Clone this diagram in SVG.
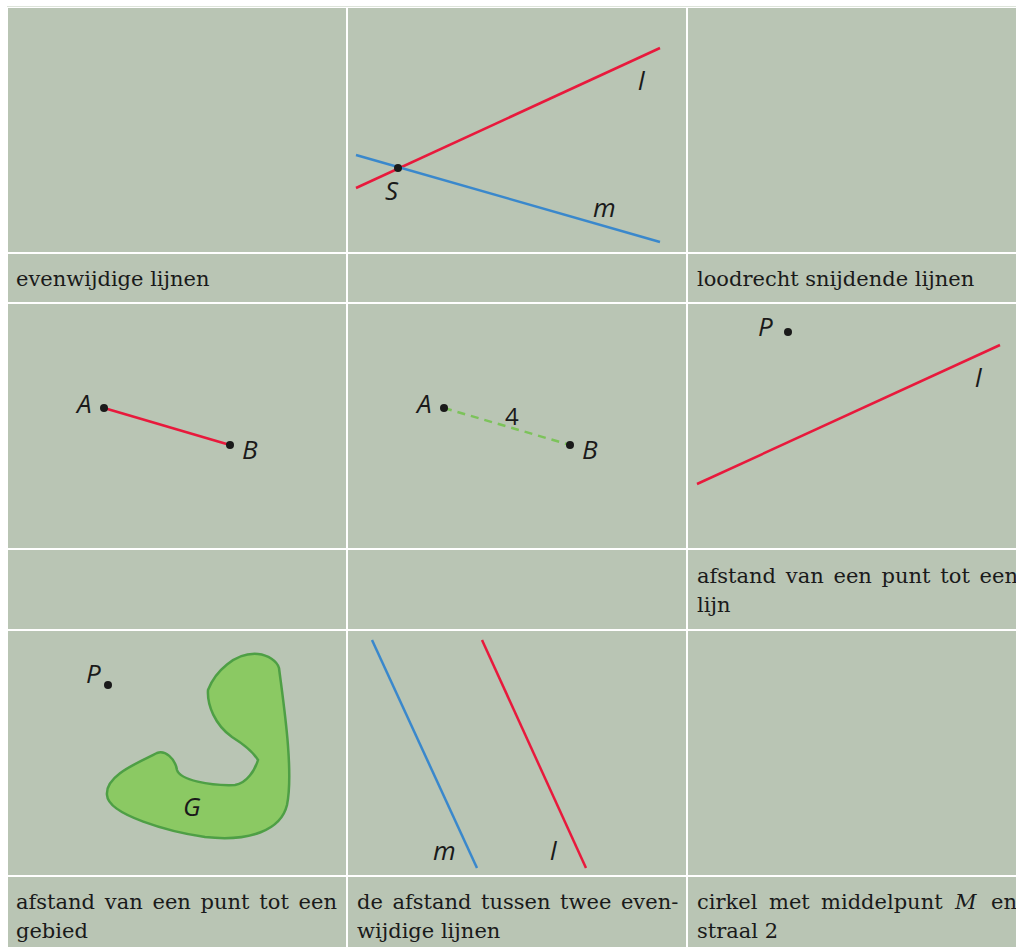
<svg xmlns="http://www.w3.org/2000/svg" width="1016" height="947" viewBox="0 0 1016 947">
<style>
.cell{fill:#b9c5b4}
.txt{font-family:"DejaVu Serif",serif;font-size:21px;fill:#1a1a1a}
.lbl{font-family:"Open Sans","Liberation Sans",sans-serif;font-style:italic;font-size:26px;fill:#1a1a1a}
.red{stroke:#e8193c;stroke-width:2.5;fill:none}
.blue{stroke:#3a88cc;stroke-width:2.5;fill:none}
.dot{fill:#1a1a1a}
</style>
<rect width="1016" height="947" fill="#ffffff"/>
<line x1="7" y1="6.5" x2="1016" y2="6.5" stroke="#dde4da" stroke-width="1"/>
<g id="grid">
<rect class="cell" x="8" y="8" width="338" height="244"/>
<rect class="cell" x="348" y="8" width="338" height="244"/>
<rect class="cell" x="688" y="8" width="328" height="244"/>
<rect class="cell" x="8" y="254" width="338" height="48"/>
<rect class="cell" x="348" y="254" width="338" height="48"/>
<rect class="cell" x="688" y="254" width="328" height="48"/>
<rect class="cell" x="8" y="304" width="338" height="244"/>
<rect class="cell" x="348" y="304" width="338" height="244"/>
<rect class="cell" x="688" y="304" width="328" height="244"/>
<rect class="cell" x="8" y="550" width="338" height="79"/>
<rect class="cell" x="348" y="550" width="338" height="79"/>
<rect class="cell" x="688" y="550" width="328" height="79"/>
<rect class="cell" x="8" y="631" width="338" height="244"/>
<rect class="cell" x="348" y="631" width="338" height="244"/>
<rect class="cell" x="688" y="631" width="328" height="244"/>
<rect class="cell" x="8" y="877" width="338" height="70"/>
<rect class="cell" x="348" y="877" width="338" height="70"/>
<rect class="cell" x="688" y="877" width="328" height="70"/>
</g>
<g id="fig-intersecting">
<line class="red" x1="356" y1="188" x2="660" y2="48"/>
<line class="blue" x1="356" y1="155" x2="660" y2="242"/>
<circle class="dot" cx="398" cy="168" r="4"/>
<text class="lbl" x="385" y="200">S</text>
<text class="lbl" x="638" y="90">l</text>
<text class="lbl" x="593" y="217">m</text>
</g>
<g id="fig-segment">
<line class="red" x1="104" y1="408" x2="230" y2="445"/>
<circle class="dot" cx="104" cy="408" r="4"/>
<circle class="dot" cx="230" cy="445" r="4"/>
<text class="lbl" x="77" y="413">A</text>
<text class="lbl" x="242" y="459">B</text>
</g>
<g id="fig-distance">
<line x1="444" y1="408" x2="570" y2="445" stroke="#7cc35a" stroke-width="2.5" stroke-dasharray="8,6"/>
<circle class="dot" cx="444" cy="408" r="4"/>
<circle class="dot" cx="570" cy="445" r="4"/>
<text class="lbl" x="417" y="413">A</text>
<text class="lbl" x="582" y="459">B</text>
<text class="lbl" x="505" y="425" style="font-style:normal;font-size:24px">4</text>
</g>
<g id="fig-point-line">
<line class="red" x1="697" y1="484" x2="1000" y2="345"/>
<circle class="dot" cx="788" cy="332" r="4"/>
<text class="lbl" x="758" y="336">P</text>
<text class="lbl" x="975" y="387">l</text>
</g>
<g id="fig-region">
<path d="M208,690 C215,672 235,652 258,654 C268,655 277,661 279,668 C283,700 294,770 287,805 C281,830 250,842 205,837 C170,832 108,815 107,795 C105,775 140,762 157,753 C165,750 175,758 177,770 C180,780 210,786 235,785 C247,783 255,770 258,760 C252,750 240,742 232,737 C215,725 207,705 208,690 Z" fill="#8bc963" stroke="#4e9f45" stroke-width="2.5"/>
<circle class="dot" cx="108" cy="685" r="4"/>
<text class="lbl" x="86" y="683">P</text>
<text class="lbl" x="183" y="816">G</text>
</g>
<g id="fig-parallel">
<line class="blue" x1="372" y1="640" x2="477" y2="868"/>
<line class="red" x1="482" y1="640" x2="586" y2="868"/>
<text class="lbl" x="433" y="860">m</text>
<text class="lbl" x="550" y="860">l</text>
</g>
<g id="captions">
<text class="txt" x="16" y="286">evenwijdige lijnen</text>
<text class="txt" x="697" y="286">loodrecht snijdende lijnen</text>
<text class="txt" x="697" y="583" word-spacing="3.1">afstand van een punt tot een</text>
<text class="txt" x="697" y="612">lijn</text>
<text class="txt" x="16" y="909" word-spacing="3.1">afstand van een punt tot een</text>
<text class="txt" x="16" y="938">gebied</text>
<text class="txt" x="357" y="909" word-spacing="2.9">de afstand tussen twee even-</text>
<text class="txt" x="357" y="938">wijdige lijnen</text>
<text class="txt" y="909"><tspan x="697">cirkel</tspan><tspan x="769">met</tspan><tspan x="821">middelpunt</tspan><tspan x="955" font-style="italic">M</tspan><tspan x="991">en</tspan></text>
<text class="txt" x="697" y="938">straal 2</text>
</g>
</svg>
